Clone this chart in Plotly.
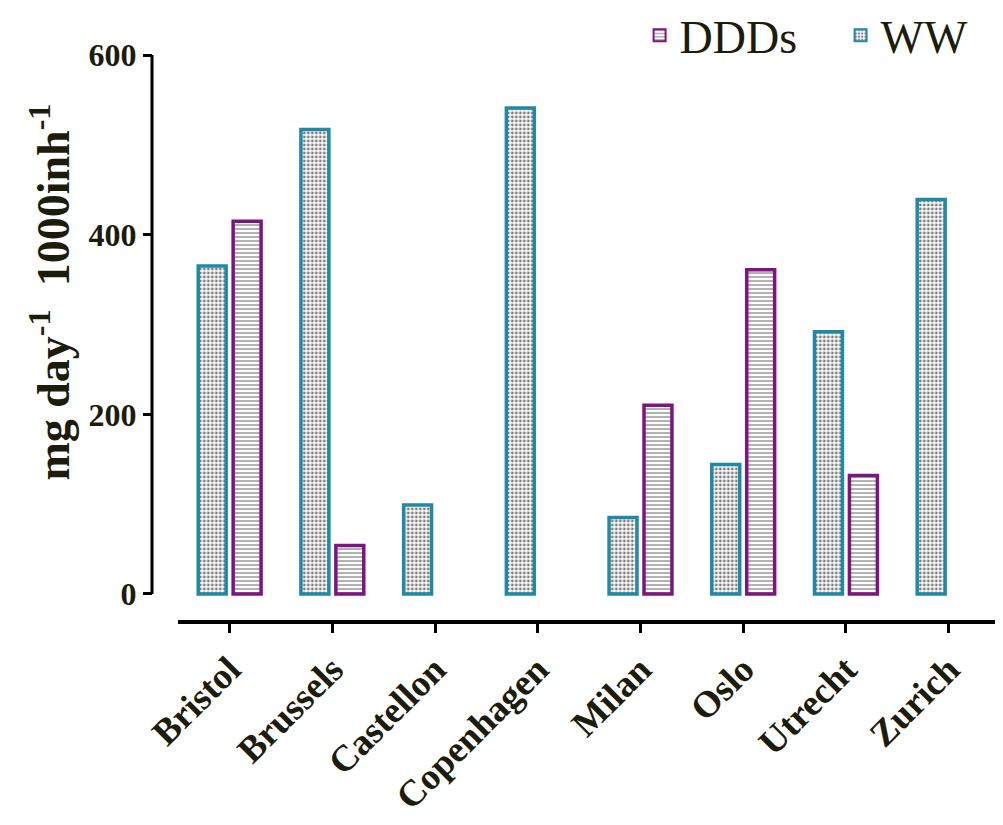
import plotly.graph_objects as go

cities = ["Bristol", "Brussels", "Castellon", "Copenhagen", "Milan", "Oslo", "Utrecht", "Zurich"]
ww = [365, 517, 99, 541, 85, 144, 292, 439]
ddds = [415, 54, None, None, 210, 361, 132, None]
y_ticks = [0, 200, 400, 600]
y_title = "mg day<sup>-1</sup>  1000inh<sup>-1</sup>"

WW_COLOR = "#1f8aa6"
DDD_COLOR = "#7e1480"
TEXT = "#1c1c0c"
FONT = "Liberation Serif"

fig = go.Figure()
fig.add_trace(go.Bar(
    x=cities, y=ww, name="WW",
    marker=dict(color="white", line=dict(color=WW_COLOR, width=3.5),
                pattern=dict(shape=".", fgcolor="black", bgcolor="white", size=4, solidity=0.4)),
))
fig.add_trace(go.Bar(
    x=cities, y=ddds, name="DDDs",
    marker=dict(color="white", line=dict(color=DDD_COLOR, width=3.5),
                pattern=dict(shape="-", fgcolor="#202020", bgcolor="white", size=4, solidity=0.35)),
))

fig.update_layout(
    width=995, height=817,
    margin=dict(l=144, r=3, t=47, b=205, autoexpand=False),
    paper_bgcolor="white", plot_bgcolor="white",
    barmode="group", bargap=0.32, bargroupgap=0.2,
    font=dict(family=FONT, color=TEXT),
    legend=dict(orientation="h", x=0.575, xanchor="left", y=1.035, yanchor="middle",
                traceorder="reversed", font=dict(family=FONT, size=46, color=TEXT),
                entrywidth=156, itemsizing="constant", bgcolor="rgba(0,0,0,0)"),
    xaxis=dict(domain=[0.031, 1], showline=True, linecolor="black", linewidth=4,
               ticks="outside", ticklen=9, tickwidth=3, tickcolor="black",
               tickangle=-45, tickfont=dict(family=FONT, size=37, weight="bold", color=TEXT),
               showgrid=False, zeroline=False, automargin=False),
    yaxis=dict(range=[-29, 600], anchor="free", position=0, showline=False,
               tickvals=y_ticks, ticks="outside", ticklen=9, tickwidth=3, tickcolor="black",
               tickfont=dict(family=FONT, size=32, weight="bold", color=TEXT),
               showgrid=False, zeroline=False, automargin=False),
    shapes=[dict(type="line", xref="paper", yref="y", x0=0, x1=0, y0=0, y1=600,
                 line=dict(color="black", width=3))],
    annotations=[dict(text=y_title, textangle=-90, xref="paper", yref="paper",
                      x=-0.12, y=0.58, xanchor="center", yanchor="middle", showarrow=False,
                      font=dict(family=FONT, size=46, weight="bold", color=TEXT))],
)

fig.write_html("out.html")
